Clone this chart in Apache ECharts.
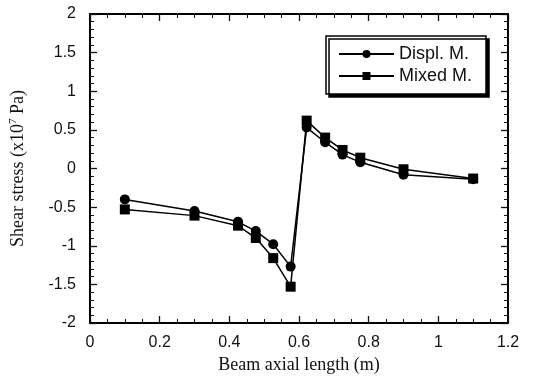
<!DOCTYPE html>
<html>
<head>
<meta charset="utf-8">
<script src="https://cdn.jsdelivr.net/npm/echarts@6/dist/echarts.min.js"></script>
<style>html,body{margin:0;padding:0;background:#fff}.c{width:533px;height:381px}</style>
</head>
<body>
<div id="c" class="c"></div>
<script>
const xPos = [0.10, 0.30, 0.425, 0.476, 0.526, 0.576, 0.622, 0.675, 0.725, 0.776, 0.90, 1.10];
const displ = [-0.40, -0.55, -0.69, -0.81, -0.98, -1.27, 0.53, 0.34, 0.18, 0.08, -0.08, -0.14];
const mixed = [-0.53, -0.61, -0.74, -0.90, -1.16, -1.53, 0.62, 0.40, 0.24, 0.14, -0.01, -0.13];

function axisStyle(split) {
  return {
    axisLine: { show: true, onZero: false, lineStyle: { color: '#000', width: 2 } },
    axisTick: { show: true, inside: true, length: 7, lineStyle: { color: '#111', width: 1.3 } },
    minorTick: { show: true, splitNumber: split, length: 4, lineStyle: { color: '#111', width: 1 } },
    splitLine: { show: false }
  };
}
const sans = 'Liberation Sans';
const serif = 'Liberation Serif';
const chart = echarts.init(document.getElementById('c'), null, { renderer: 'canvas' });
chart.setOption({
  backgroundColor: '#fff',
  animation: false,
  grid: { left: 88, right: 25, top: 14, bottom: 58 },
  xAxis: [
    { type: 'value', min: 0, max: 1.2, interval: 0.2, ...axisStyle(4),
      axisLabel: { color: '#111', fontSize: 16, fontFamily: sans, margin: 12 },
      name: 'Beam axial length (m)', nameLocation: 'middle', nameGap: 32,
      nameTextStyle: { color: '#111', fontSize: 18, fontFamily: serif } },
    { type: 'value', position: 'top', min: 0, max: 1.2, interval: 0.2, ...axisStyle(4), axisLabel: { show: false } }
  ],
  yAxis: [
    { type: 'value', min: -2, max: 2, interval: 0.5, ...axisStyle(5),
      axisLabel: { color: '#111', fontSize: 16, fontFamily: sans, margin: 14 },
      name: 'Shear stress (x10{sup|7} Pa)', nameLocation: 'middle', nameGap: 62,
      nameTextStyle: { color: '#111', fontSize: 18, fontFamily: serif,
        rich: { sup: { fontSize: 11, verticalAlign: 'top', padding: [0, 0, 9, 0], fontFamily: serif, color: '#111' } } } },
    { type: 'value', position: 'right', min: -2, max: 2, interval: 0.5, ...axisStyle(5), axisLabel: { show: false } }
  ],
  legend: {
    orient: 'vertical', left: 326, top: 36,
    padding: [9, 14, 9, 12], itemGap: 4,
    itemWidth: 55, itemHeight: 10,
    backgroundColor: '#fff', borderColor: '#000', borderWidth: 1.5,
    shadowColor: '#000', shadowBlur: 0, shadowOffsetX: 3, shadowOffsetY: 3,
    textStyle: { color: '#111', fontSize: 18, fontFamily: sans }
  },
  series: [
    { name: 'Displ. M.', type: 'line', data: xPos.map((x, i) => [x, displ[i]]),
      symbol: 'circle', symbolSize: 10, itemStyle: { color: '#000' }, lineStyle: { color: '#000', width: 1.5 } },
    { name: 'Mixed M.', type: 'line', data: xPos.map((x, i) => [x, mixed[i]]),
      symbol: 'rect', symbolSize: 10, itemStyle: { color: '#000' }, lineStyle: { color: '#000', width: 1.5 } }
  ]
});
</script>
</body>
</html>
